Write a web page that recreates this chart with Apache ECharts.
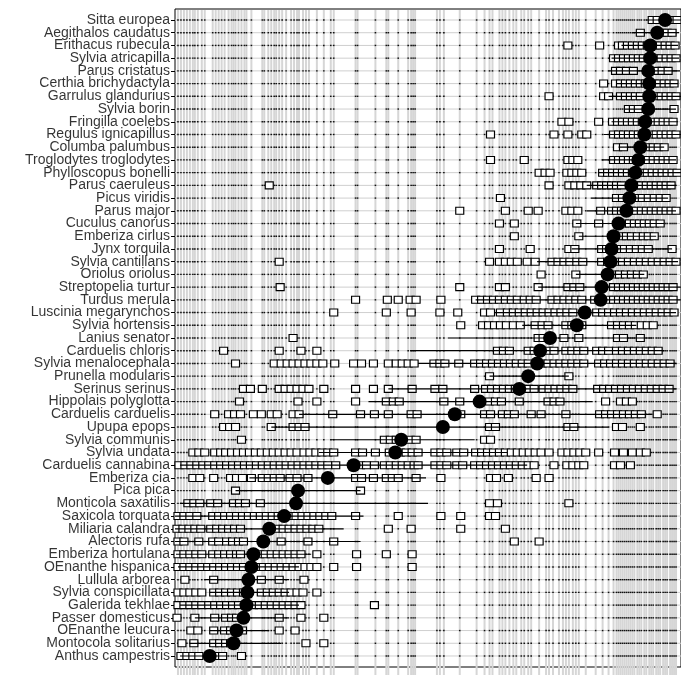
<!DOCTYPE html>
<html>
<head>
<meta charset="utf-8">
<script src="https://cdn.jsdelivr.net/npm/echarts@6/dist/echarts.min.js"></script>
<style>
  html, body { margin: 0; padding: 0; background: #fff; }
  #chart { width: 681px; height: 675px; }
</style>
</head>
<body>
<div id="chart"></div>
<script>
  // species, top to bottom
  var species = [
    'Sitta europea', 'Aegithalos caudatus', 'Erithacus rubecula', 'Sylvia atricapilla',
    'Parus cristatus', 'Certhia brichydactyla', 'Garrulus glandurius', 'Sylvia borin',
    'Fringilla coelebs', 'Regulus ignicapillus', 'Columba palumbus', 'Troglodytes troglodytes',
    'Phylloscopus bonelli', 'Parus caeruleus', 'Picus viridis', 'Parus major',
    'Cuculus canorus', 'Emberiza cirlus', 'Jynx torquila', 'Sylvia cantillans',
    'Oriolus oriolus', 'Streptopelia turtur', 'Turdus merula', 'Luscinia megarynchos',
    'Sylvia hortensis', 'Lanius senator', 'Carduelis chloris', 'Sylvia menalocephala',
    'Prunella modularis', 'Serinus serinus', 'Hippolais polyglotta', 'Carduelis carduelis',
    'Upupa epops', 'Sylvia communis', 'Sylvia undata', 'Carduelis cannabina',
    'Emberiza cia', 'Pica pica', 'Monticola saxatilis', 'Saxicola torquata',
    'Miliaria calandra', 'Alectoris rufa', 'Emberiza hortulana', 'OEnanthe hispanica',
    'Lullula arborea', 'Sylvia conspicillata', 'Galerida tekhlae', 'Passer domesticus',
    'OEnanthe leucura', 'Montocola solitarius', 'Anthus campestris'
  ]

  // site scores along the gradient
  var sites = [
    3, 6, 9, 12, 15, 18, 20, 23, 27, 30, 38, 41, 44, 47, 50, 54, 57, 59, 61, 64, 67, 70, 72, 77,
    88, 90, 94, 97, 100, 102, 105, 108, 112, 117, 120, 123, 125, 129, 132, 135, 143, 150, 157, 160,
    182, 184, 202, 213, 215, 225, 235, 238, 240, 242, 264, 267, 271, 287, 304, 312, 317, 320,
    327, 330, 333, 337, 341, 344, 349, 352, 356, 359, 367, 374, 377, 381, 387, 391, 394, 397,
    401, 404, 407, 414, 424, 431, 437, 442, 445, 447, 449, 451, 453, 455, 457, 459, 461, 463,
    466, 468, 470, 473, 475, 478, 480, 482, 485, 487, 489, 492, 494, 496, 499, 501, 503, 505
  ]

  // scores of the sites where each species was found
  var presence = [
    [481, 486, 501, 506],
    [469, 491, 496, 501],
    [396, 428, 447, 451, 456, 461, 466, 471, 476, 484, 489, 494, 499, 504],
    [442, 447, 452, 457, 462, 467, 472, 477, 485, 490, 495, 500, 505],
    [444, 449, 455, 462, 485, 491, 497],
    [432, 444, 449, 454, 459, 464, 469, 474, 483, 488, 493, 498, 503],
    [377, 432, 437, 449, 454, 459, 464, 469, 485, 490, 495, 500, 505],
    [457, 462, 467, 503],
    [390, 397, 427, 441, 446, 451, 456, 461, 466, 471, 482, 487, 492, 497, 502],
    [318, 382, 396, 410, 415, 442, 447, 452, 457, 462, 467, 480, 485, 490, 495, 500, 505],
    [446, 452, 477, 482, 487, 493],
    [318, 352, 396, 401, 406, 442, 447, 452, 457, 462, 472, 477, 482, 487, 492, 497, 502],
    [367, 373, 378, 395, 400, 405, 410, 431, 436, 441, 446, 451, 456, 461, 471, 476, 481, 486, 491, 496, 501, 506],
    [95, 377, 397, 403, 409, 415, 425, 430, 435, 440, 445, 450, 465, 470, 475, 480, 485, 490, 495, 500],
    [328, 445, 451, 465, 471, 477, 483, 489, 495],
    [287, 333, 356, 366, 394, 400, 406, 429, 440, 445, 450, 460, 465, 470, 475, 480, 485, 490, 495, 500, 505],
    [327, 342, 405, 427, 453, 458, 463, 468, 473, 478, 483, 489],
    [342, 407, 450, 455, 460, 466, 472, 477, 483],
    [327, 358, 397, 403, 430, 435, 447, 453, 459, 465, 471, 477, 501],
    [105, 317, 327, 333, 339, 345, 355, 363, 380, 386, 392, 398, 405, 411, 430, 436, 445, 451, 457, 463, 469, 475, 481, 487, 493, 499, 505],
    [369, 404, 443, 448, 454, 460, 466, 472],
    [106, 287, 327, 333, 366, 396, 402, 408, 442, 447, 452, 457, 462, 467, 472, 477, 482, 487, 492, 497, 502],
    [182, 214, 225, 237, 243, 268, 303, 309, 315, 321, 327, 333, 339, 345, 352, 358, 364, 380, 386, 392, 398, 404, 410, 423, 437, 442, 447, 452, 457, 462, 467, 472, 477, 482, 487, 492, 497, 502],
    [160, 213, 238, 267, 285, 312, 318, 328, 335, 341, 347, 353, 359, 365, 371, 377, 383, 389, 395, 401, 425, 431, 437, 443, 449, 455, 461, 467, 473, 479, 485, 491, 497, 503],
    [288, 310, 316, 322, 328, 334, 341, 348, 363, 370, 376, 394, 400, 410, 440, 446, 452, 458, 464, 470, 476, 482],
    [119, 366, 371, 392, 407, 446, 452, 469],
    [49, 105, 127, 143, 325, 331, 337, 356, 362, 376, 382, 394, 400, 406, 412, 425, 431, 437, 445, 451, 457, 463, 469, 475, 481, 487],
    [61, 100, 107, 113, 119, 125, 131, 137, 143, 149, 161, 180, 188, 200, 215, 223, 229, 235, 241, 261, 267, 272, 286, 302, 308, 314, 320, 326, 332, 338, 344, 350, 356, 370, 376, 382, 388, 394, 400, 406, 412, 427, 433, 439, 445, 451, 457, 463, 469, 475, 481, 487, 493, 499],
    [317, 397],
    [69, 76, 88, 105, 111, 117, 123, 129, 135, 150, 182, 200, 215, 239, 262, 270, 302, 313, 319, 325, 331, 337, 343, 350, 356, 362, 371, 377, 383, 389, 395, 401, 426, 432, 438, 444, 450, 456, 462, 468, 474, 480, 486, 492, 498],
    [65, 124, 143, 182, 213, 220, 226, 271, 287, 317, 323, 329, 347, 376, 382, 388, 434, 449, 455, 461],
    [40, 54, 60, 66, 79, 87, 97, 103, 119, 125, 159, 187, 201, 215, 238, 244, 288, 312, 318, 330, 336, 342, 359, 369, 394, 428, 434, 440, 446, 452, 458, 464, 470, 486],
    [49, 55, 61, 97, 119, 125, 131, 317, 323, 396, 402, 445, 451, 469],
    [67, 211, 217, 223, 237, 243, 312, 318],
    [18, 24, 30, 40, 46, 51, 57, 63, 69, 75, 81, 87, 93, 99, 105, 111, 117, 123, 130, 136, 142, 148, 154, 160, 182, 189, 202, 216, 227, 233, 239, 245, 262, 268, 274, 284, 291, 303, 309, 315, 321, 327, 333, 339, 345, 351, 357, 363, 369, 377, 390, 396, 402, 408, 414, 427, 443, 452, 461, 469, 475],
    [4, 10, 16, 22, 28, 34, 40, 46, 52, 58, 64, 70, 76, 82, 88, 94, 100, 106, 112, 118, 124, 130, 136, 142, 148, 154, 162, 187, 193, 201, 211, 217, 223, 229, 235, 241, 245, 262, 268, 274, 284, 290, 302, 308, 314, 320, 326, 332, 338, 344, 350, 356, 362, 382, 395, 401, 407, 412, 443, 449, 459],
    [18, 25, 39, 56, 62, 68, 77, 88, 94, 100, 106, 116, 123, 134, 182, 188, 200, 213, 219, 225, 243, 268, 318, 324, 336, 364, 377],
    [61, 187],
    [13, 19, 25, 36, 43, 59, 65, 71, 86, 317, 325, 397],
    [3, 9, 15, 22, 38, 44, 50, 56, 62, 68, 74, 80, 86, 92, 98, 104, 116, 122, 128, 134, 140, 146, 152, 158, 182, 225, 268, 288, 317, 323],
    [2, 8, 14, 20, 26, 36, 42, 48, 54, 60, 66, 103, 109, 115, 121, 127, 133, 139, 145, 215, 238, 288, 333],
    [3, 9, 24, 38, 44, 52, 58, 64, 69, 107, 134, 160, 342, 367],
    [3, 9, 15, 21, 27, 38, 44, 50, 56, 62, 66, 85, 91, 97, 103, 109, 115, 121, 127, 143, 183, 213, 239],
    [3, 9, 15, 21, 27, 33, 39, 45, 51, 57, 63, 69, 83, 89, 95, 101, 107, 113, 119, 125, 131, 137, 143, 160, 183, 239],
    [10, 39, 87, 105, 130],
    [3, 9, 15, 21, 27, 39, 45, 51, 57, 63, 69, 87, 93, 99, 105, 111, 117, 123, 129, 143],
    [3, 9, 15, 21, 27, 34, 40, 46, 52, 58, 64, 79, 85, 91, 97, 103, 109, 115, 121, 127, 201],
    [2, 20, 40, 51, 57, 62, 105, 127, 150],
    [16, 23, 39, 50, 56, 62, 68, 105, 121],
    [7, 19, 39, 45, 51, 56, 132, 150],
    [6, 12, 18, 24, 42, 48, 67]
  ]

  // weighted mean and spread of each species
  var means = [
    494, 486, 479, 479, 477, 478, 478, 477, 474, 473, 469, 467, 464, 460, 458, 455, 447, 442,
    440, 439, 436, 430, 429, 413, 405, 378, 368, 365, 356, 347, 307, 282, 270, 228, 222, 180,
    154, 124, 122, 110, 95, 89, 79, 77, 74, 73, 72, 69, 62, 59, 35
  ]
  var sdLow = [
    475, 461, 450, 440, 437, 445, 437, 453, 440, 432, 447, 430, 427, 415, 419, 415, 404, 407,
    400, 365, 404, 366, 303, 322, 350, 275, 237, 245, 317, 215, 195, 125, 97, 157, 145, 5,
    75, 61, 5, 0, 0, 0, 1, 3, 30, 35, 5, 20, 35, 15, 5
  ]
  var sdHigh = [
    510, 508, 507, 508, 509, 507, 510, 505, 507, 510, 493, 505, 510, 505, 497, 505, 493, 485,
    501, 507, 473, 510, 510, 505, 465, 481, 493, 505, 397, 505, 421, 480, 437, 302, 335, 355,
    253, 187, 255, 190, 170, 187, 137, 125, 115, 115, 125, 115, 95, 107, 53
  ]

  var Y_MIN = 0.135
  var Y_MAX = 51.865
  var rows = species.map(function (s, i) { return i + 1 })

  var squareData = []
  presence.forEach(function (list, i) {
    list.forEach(function (x) { squareData.push([x, i + 1]) })
  })

  var chart = echarts.init(document.getElementById('chart'))

  chart.setOption({
    animation: false,
    backgroundColor: '#fff',
    grid: {
      left: 175,
      top: 9,
      right: -4,
      bottom: 8,
      show: true,
      borderColor: '#000',
      borderWidth: 1
    },
    xAxis: {
      type: 'value',
      min: 0,
      max: 510,
      show: false
    },
    yAxis: {
      type: 'value',
      min: Y_MIN,
      max: Y_MAX,
      inverse: true,
      axisLine: { show: false },
      splitLine: { show: false },
      axisLabel: { show: false },
      axisTick: {
        show: true,
        length: 4,
        customValues: rows,
        lineStyle: { color: '#000', width: 1 }
      }
    },
    series: [
      {
        // species names, one per row, left of the frame
        type: 'scatter',
        silent: true,
        clip: false,
        symbolSize: 0,
        z: 6,
        data: rows.map(function (r) { return [0, r] }),
        label: {
          show: true,
          position: 'left',
          distance: 5,
          color: '#000',
          fontSize: 14,
          fontFamily: 'Liberation Sans, Arial, sans-serif',
          formatter: function (p) { return species[p.dataIndex] }
        },
        labelLayout: { hideOverlap: false }
      },
      {
        // site positions: vertical lines plus the rug below the frame
        type: 'custom',
        clip: false,
        silent: true,
        z: 1,
        data: sites,
        renderItem: function (params, api) {
          var x = api.value(0)
          var top = api.coord([x, Y_MIN])
          var bot = api.coord([x, Y_MAX])
          return {
            type: 'line',
            shape: { x1: top[0], y1: top[1] + 1, x2: bot[0], y2: bot[1] + 9 },
            style: { stroke: '#d6d6d6', lineWidth: 2 }
          }
        }
      },
      {
        // one dotted row per species, a dot at every site
        type: 'custom',
        silent: true,
        z: 2,
        data: rows,
        renderItem: function (params, api) {
          var r = api.value(0)
          var a = api.coord([0, r])
          var b = api.coord([510, r])
          var children = [{
            type: 'line',
            shape: { x1: a[0], y1: a[1], x2: b[0], y2: b[1] },
            style: { stroke: '#cfcfcf', lineWidth: 1 }
          }]
          sites.forEach(function (s) {
            var p = api.coord([s, r])
            children.push({
              type: 'rect',
              shape: { x: p[0] - 0.8, y: p[1] - 0.7, width: 1.6, height: 1.4 },
              style: { fill: '#111' }
            })
          })
          return { type: 'group', children: children }
        }
      },
      {
        type: 'scatter',
        silent: true,
        z: 3,
        symbol: 'rect',
        symbolSize: [8, 7],
        itemStyle: { color: '#fff', borderColor: '#000', borderWidth: 1.1, opacity: 1 },
        data: squareData
      },
      {
        // spread of each species
        type: 'custom',
        silent: true,
        z: 4,
        encode: { x: [0, 1], y: 2 },
        data: rows.map(function (r, i) { return [sdLow[i], sdHigh[i], r] }),
        renderItem: function (params, api) {
          var a = api.coord([api.value(0), api.value(2)])
          var b = api.coord([api.value(1), api.value(2)])
          return {
            type: 'line',
            shape: { x1: a[0], y1: a[1], x2: b[0], y2: b[1] },
            style: { stroke: '#000', lineWidth: 1.2 }
          }
        }
      },
      {
        type: 'scatter',
        silent: true,
        z: 5,
        symbol: 'circle',
        symbolSize: 14,
        itemStyle: { color: '#000', opacity: 1 },
        data: rows.map(function (r, i) { return [means[i], r] })
      }
    ]
  })
</script>
</body>
</html>
